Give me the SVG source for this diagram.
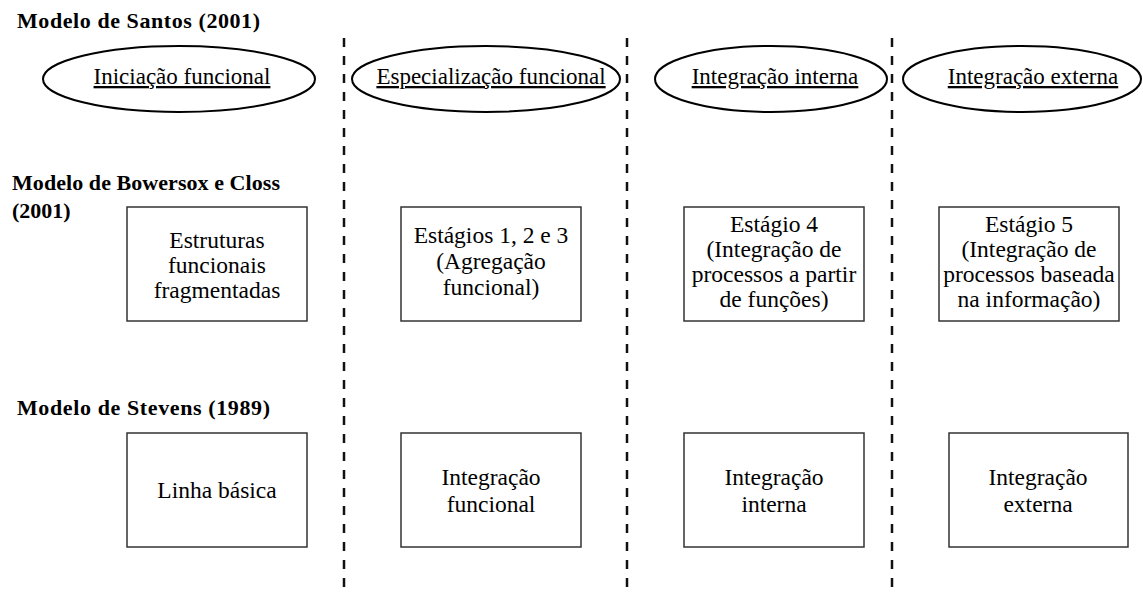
<svg xmlns="http://www.w3.org/2000/svg" width="1143" height="596" viewBox="0 0 1143 596">
<style>
text{font-family:"Liberation Serif","Times New Roman","DejaVu Serif",serif;fill:#000;}
.h{font-size:22px;font-weight:bold;}
.e{font-size:23px;text-decoration:underline;}
.b{font-size:23.5px;}
.ell{fill:#fff;stroke:#000;stroke-width:2;}
.box{fill:#fff;stroke:#333;stroke-width:1.5;}
.dash{stroke:#111;stroke-width:2.5;stroke-dasharray:9 9;fill:none;}
</style>
<rect width="1143" height="596" fill="#fff"/>
<g id="connectors">
<line class="dash" x1="344" y1="38" x2="344" y2="596"/>
<line class="dash" x1="627" y1="38" x2="627" y2="596"/>
<line class="dash" x1="892" y1="38" x2="892" y2="596"/>
</g>
<g id="labels">
<text class="h" x="17" y="28" textLength="243">Modelo de Santos (2001)</text>
<text class="h" x="12" y="190" textLength="268">Modelo de Bowersox e Closs</text>
<text class="h" x="12" y="218">(2001)</text>
<text class="h" x="17" y="415" textLength="253">Modelo de Stevens (1989)</text>
</g>
<g id="santos-1"><ellipse class="ell" cx="179" cy="79" rx="136" ry="33"/><text class="e" x="182" y="84" text-anchor="middle">Iniciação funcional</text></g>
<g id="santos-2"><ellipse class="ell" cx="486" cy="79" rx="134" ry="33"/><text class="e" x="491" y="84" text-anchor="middle">Especialização funcional</text></g>
<g id="santos-3"><ellipse class="ell" cx="771" cy="79" rx="116" ry="33"/><text class="e" x="775" y="84" text-anchor="middle">Integração interna</text></g>
<g id="santos-4"><ellipse class="ell" cx="1022" cy="79" rx="119" ry="33"/><text class="e" x="1033" y="84" text-anchor="middle">Integração externa</text></g>
<g id="bc-1"><rect class="box" x="127" y="207" width="180" height="114"/><text class="b" text-anchor="middle"><tspan x="217" y="248">Estruturas</tspan><tspan x="217" y="273">funcionais</tspan><tspan x="217" y="298">fragmentadas</tspan></text></g>
<g id="bc-2"><rect class="box" x="401" y="207" width="180" height="114"/><text class="b" text-anchor="middle"><tspan x="491" y="243">Estágios 1, 2 e 3</tspan><tspan x="491" y="269">(Agregação</tspan><tspan x="491" y="295">funcional)</tspan></text></g>
<g id="bc-3"><rect class="box" x="684" y="207" width="180" height="114"/><text class="b" text-anchor="middle"><tspan x="774" y="232">Estágio 4</tspan><tspan x="774" y="257">(Integração de</tspan><tspan x="774" y="282">processos a partir</tspan><tspan x="774" y="307">de funções)</tspan></text></g>
<g id="bc-4"><rect class="box" x="939" y="207" width="180" height="114"/><text class="b" text-anchor="middle"><tspan x="1029" y="232">Estágio 5</tspan><tspan x="1029" y="257">(Integração de</tspan><tspan x="1029" y="282">processos baseada</tspan><tspan x="1029" y="307">na informação)</tspan></text></g>
<g id="st-1"><rect class="box" x="127" y="433" width="180" height="114"/><text class="b" x="217" y="498" text-anchor="middle">Linha básica</text></g>
<g id="st-2"><rect class="box" x="401" y="433" width="180" height="114"/><text class="b" text-anchor="middle"><tspan x="491" y="485">Integração</tspan><tspan x="491" y="512">funcional</tspan></text></g>
<g id="st-3"><rect class="box" x="684" y="433" width="180" height="114"/><text class="b" text-anchor="middle"><tspan x="774" y="485">Integração</tspan><tspan x="774" y="512">interna</tspan></text></g>
<g id="st-4"><rect class="box" x="949" y="433" width="179" height="114"/><text class="b" text-anchor="middle"><tspan x="1038" y="485">Integração</tspan><tspan x="1038" y="512">externa</tspan></text></g>
</svg>
